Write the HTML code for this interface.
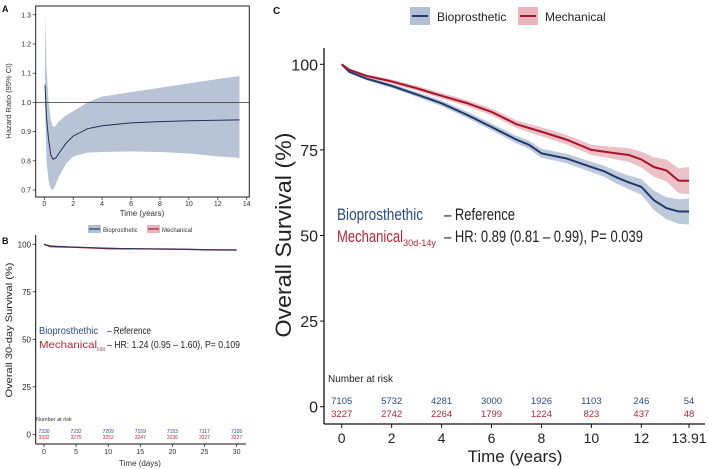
<!DOCTYPE html>
<html><head><meta charset="utf-8"><style>
html,body{margin:0;padding:0;background:#fff;}
svg{display:block;font-family:"Liberation Sans Narrow","Liberation Sans",sans-serif;}
</style></head><body>
<svg id="fig" width="709" height="469" viewBox="0 0 709 469" xmlns="http://www.w3.org/2000/svg"></svg>
<script>
// ---------- Panel A data ----------
const hrT     = [0.05,0.15,0.3,0.45,0.6,0.8,1,1.5,2,3,4,6,8,10,12,13.5];
const hrEst   = [1.06,0.95,0.87,0.82,0.805,0.81,0.825,0.86,0.885,0.91,0.92,0.93,0.934,0.937,0.939,0.94];
const hrUpper = [1.3,1.12,1.0,0.94,0.915,0.92,0.935,0.955,0.97,1.0,1.02,1.035,1.05,1.065,1.08,1.09];
const hrLower = [1.0,0.8,0.73,0.705,0.70,0.72,0.745,0.79,0.815,0.828,0.83,0.832,0.83,0.825,0.815,0.81];
const aXTicks = [0,2,4,6,8,10,12,14];
const aYTicks = [0.7,0.8,0.9,1.0,1.1,1.2,1.3];
// ---------- Panel B data ----------
const bDays   = [0,1,2,5,8,10,15,20,23,25,30];
const bBio    = [100,99.2,99.0,98.5,98.2,98.0,97.6,97.4,97.3,97.2,97.0];
const bMech   = [100,98.8,98.7,98.4,98.0,97.7,97.6,97.5,97.3,97.1,97.0];
const bXTicks = [0,5,10,15,20,25,30];
const bYTicks = [0,25,50,75,100];
const bRiskBio  = ["7330","7232","7209","7159","7153","7117","7105"];
const bRiskMech = ["3332","3275","3252","3247","3236","3227","3227"];
// ---------- Panel C data ----------
const cT     = [0,0.3,1,2,3,4,5,6,7,7.5,8,9,10,10.5,11,11.5,12,12.5,13,13.5,13.91];
const cBio   = [100,97.8,95.8,93.7,91.2,88.6,85.3,81.7,78,76.5,74,72.5,70,68.8,67,65.5,64.2,60.3,58,57,57];
const cMech  = [100,98.4,96.6,95,93,90.8,88.7,86.1,82.5,81.4,80.3,78,75,74.5,74,73.5,72.2,70,69,66,66];
const cBioCI = [0.2,0.4,0.5,0.6,0.7,0.8,0.9,1.0,1.1,1.2,1.3,1.4,1.5,1.6,1.8,2.0,2.3,2.8,3.2,3.6,3.8];
const cMechCI= [0.2,0.4,0.5,0.6,0.7,0.8,0.9,1.0,1.1,1.2,1.3,1.4,1.5,1.6,1.8,2.0,2.3,2.8,3.2,3.6,4.0];
const cXTicks = [0,2,4,6,8,10,12,13.91];
const cYTicks = [0,25,50,75,100];
const cRiskBio  = ["7105","5732","4281","3000","1926","1103","246","54"];
const cRiskMech = ["3227","2742","2264","1799","1224","823","437","48"];

const BLUE="#1f3a6e", RED="#a8152b", BLUEF="#b3bfd4", REDF="#e9b5bd", BLUET="#2c4a8a", REDT="#b02a3a";
const svg=document.getElementById('fig');
const NS="http://www.w3.org/2000/svg";
function el(tag,attrs,parent){const e=document.createElementNS(NS,tag);for(const k in attrs)e.setAttribute(k,attrs[k]);(parent||svg).appendChild(e);return e;}
function txt(s,attrs,parent){const e=el('text',attrs,parent);e.textContent=s;return e;}
function linePath(xs,ys,sx,sy){let d='M'+sx(xs[0])+','+sy(ys[0]);for(let i=1;i<xs.length;i++){d+=' L'+sx(xs[i])+','+sy(ys[i]);}return d;}

// ================= Panel A =================
const ax=t=>44.3+t*14.46, ay=v=>190-(v-0.7)/0.1*29.2;
let gA=el('g',{});


let pA='M'+ax(hrT[0])+','+ay(hrUpper[0]);
for(let i=1;i<hrT.length;i++)pA+=' L'+ax(hrT[i])+','+ay(hrUpper[i]);
for(let i=hrT.length-1;i>=0;i--)pA+=' L'+ax(hrT[i])+','+ay(hrLower[i]);
let band=el('path',{d:pA+'Z',fill:'#b9c3d6'},gA);


let ref=el('line',{x1:35.7,x2:249.3,y1:ay(1),y2:ay(1),stroke:'#333','stroke-width':0.8},gA);


let hl=el('path',{d:linePath(hrT,hrEst,ax,ay),fill:'none',stroke:'#1f2f5a','stroke-width':1},gA);


el('rect',{x:35.7,y:6,width:213.6,height:191,fill:'none',stroke:'#222','stroke-width':1},gA);
aXTicks.forEach(t=>{el('line',{x1:ax(t),x2:ax(t),y1:197,y2:200,stroke:'#222','stroke-width':0.7},gA);
 let e=txt(String(t),{x:ax(t),y:206,'font-size':7,'text-anchor':'middle',fill:'#333'},gA);
 });
aYTicks.forEach(v=>{el('line',{x1:32.7,x2:35.7,y1:ay(v),y2:ay(v),stroke:'#222','stroke-width':0.7},gA);
 let e=txt(v.toFixed(1),{x:31,y:ay(v)+2.5,'font-size':7,'text-anchor':'end',fill:'#333'},gA);
 });
let at=txt('Time (years)',{x:142,y:216,'font-size':8,'text-anchor':'middle',fill:'#333'},gA);

let ayt=txt('Hazard Ratio (95% CI)',{x:0,y:0,'font-size':7.5,'text-anchor':'middle',fill:'#333',transform:'translate(11,101) rotate(-90)'},gA);

let la=txt('A',{x:2,y:12,'font-size':9,'font-weight':'bold',fill:'#111','font-family':'Liberation Sans'},gA);


// ---- shared small legend ----
let gL=el('g',{});


el('rect',{x:88,y:225,width:13,height:8,fill:BLUEF},gL);
el('line',{x1:89,x2:100,y1:229,y2:229,stroke:BLUE,'stroke-width':1.2},gL);
txt('Bioprosthetic',{x:103,y:232,'font-size':6,fill:'#333','font-family':'Liberation Sans'},gL);
el('rect',{x:147,y:225,width:13,height:8,fill:REDF},gL);
el('line',{x1:148,x2:159,y1:229,y2:229,stroke:RED,'stroke-width':1.2},gL);
txt('Mechanical',{x:162,y:232,'font-size':6,fill:'#333','font-family':'Liberation Sans'},gL);

// ================= Panel B =================
const bx=d=>44+d*6.42, by=v=>434.3-v*1.9;
let gB=el('g',{});


let bm=el('path',{d:linePath(bDays,bMech,bx,by),fill:'none',stroke:RED,'stroke-width':1.4},gB);

let bb=el('path',{d:linePath(bDays,bBio,bx,by),fill:'none',stroke:BLUE,'stroke-width':1},gB);

el('line',{x1:35.7,x2:35.7,y1:235,y2:444,stroke:'#111','stroke-width':1},gB);
el('line',{x1:35.7,x2:246,y1:444,y2:444,stroke:'#111','stroke-width':1},gB);
bXTicks.forEach(d=>{el('line',{x1:bx(d),x2:bx(d),y1:444,y2:447,stroke:'#111','stroke-width':0.7},gB);
 let e=txt(String(d),{x:bx(d),y:454,'font-size':7,'text-anchor':'middle',fill:'#333','font-family':'Liberation Sans'},gB);
 });
bYTicks.forEach(v=>{el('line',{x1:32.7,x2:35.7,y1:by(v),y2:by(v),stroke:'#111','stroke-width':0.7},gB);
 let e=txt(String(v),{x:31,y:by(v)+3,'font-size':8,'text-anchor':'end',fill:'#222'},gB);
 });
let bt=txt('Time (days)',{x:140,y:466,'font-size':8,'text-anchor':'middle',fill:'#333','font-family':'Liberation Sans'},gB);

let byt=txt('Overall 30-day Survival (%)',{x:0,y:0,'font-size':9.5,'text-anchor':'middle',fill:'#222',transform:'translate(12,330) rotate(-90)',textLength:135,lengthAdjust:'spacingAndGlyphs'},gB);

let lb=txt('B',{x:2,y:244,'font-size':9,'font-weight':'bold',fill:'#111','font-family':'Liberation Sans'},gB);

txt('Bioprosthethic',{x:39,y:334,'font-size':10,fill:BLUET,textLength:59,lengthAdjust:'spacingAndGlyphs'},gB);
txt('– Reference',{x:107,y:334,'font-size':10,fill:'#222',textLength:44,lengthAdjust:'spacingAndGlyphs'},gB);
txt('Mechanical',{x:39,y:348,'font-size':10,fill:REDT,textLength:58,lengthAdjust:'spacingAndGlyphs'},gB);
txt('0-30d',{x:97,y:351,'font-size':5.5,fill:REDT,textLength:8,lengthAdjust:'spacingAndGlyphs'},gB);
txt('– HR: 1.24 (0.95 – 1.60), P= 0.109',{x:107,y:348,'font-size':10,fill:'#222',textLength:133,lengthAdjust:'spacingAndGlyphs'},gB);
txt('Number at risk',{x:36,y:421,'font-size':5.5,fill:'#333','font-family':'Liberation Sans'},gB);
bXTicks.forEach((d,i)=>{
 let e1=txt(bRiskBio[i],{x:bx(d),y:433,'font-size':5,'text-anchor':'middle',fill:BLUET,'font-family':'Liberation Sans'},gB);
 
 let e2=txt(bRiskMech[i],{x:bx(d),y:439,'font-size':5,'text-anchor':'middle',fill:REDT,'font-family':'Liberation Sans'},gB);
 });

// ================= Panel C =================
const cx=t=>341.7+t*24.97, cy=v=>406.7-v*3.424;
let gC=el('g',{});


function bandLine(xs,ys,ci,fill,name){
 let d='M'+cx(xs[0])+','+cy(ys[0]+ci[0]);
 for(let i=1;i<xs.length;i++)d+=' L'+cx(xs[i])+','+cy(ys[i]+ci[i]);
 for(let i=xs.length-1;i>=0;i--)d+=' L'+cx(xs[i])+','+cy(ys[i]-ci[i]);
 let p=el('path',{d:d+'Z',fill:fill,opacity:0.85},gC);
 
}
bandLine(cT,cBio,cBioCI,BLUEF,'c-bio-ci-band');
bandLine(cT,cMech,cMechCI,REDF,'c-mech-ci-band');
let cb=el('path',{d:linePath(cT,cBio,cx,cy),fill:'none',stroke:BLUE,'stroke-width':2},gC);

let cm=el('path',{d:linePath(cT,cMech,cx,cy),fill:'none',stroke:RED,'stroke-width':2},gC);

el('line',{x1:324,x2:324,y1:48,y2:424,stroke:'#111','stroke-width':1.3},gC);
el('line',{x1:324,x2:705,y1:424,y2:424,stroke:'#111','stroke-width':1.3},gC);
cXTicks.forEach(t=>{el('line',{x1:cx(t),x2:cx(t),y1:424,y2:428,stroke:'#111','stroke-width':1},gC);
 let e=txt(String(t),{x:cx(t),y:443,'font-size':14,'text-anchor':'middle',fill:'#222','font-family':'Liberation Sans'},gC);
 });
cYTicks.forEach(v=>{el('line',{x1:320,x2:324,y1:cy(v),y2:cy(v),stroke:'#111','stroke-width':1},gC);
 let e=txt(String(v),{x:318,y:cy(v)+6,'font-size':16,'text-anchor':'end',fill:'#222'},gC);
 });
let ct=txt('Time (years)',{x:515,y:462,'font-size':17,'text-anchor':'middle',fill:'#222','font-family':'Liberation Sans'},gC);

let cyt=txt('Overall Survival (%)',{x:0,y:0,'font-size':22,'text-anchor':'middle',fill:'#222',transform:'translate(291,235) rotate(-90)',textLength:205,lengthAdjust:'spacingAndGlyphs'},gC);

let lc=txt('C',{x:273,y:14,'font-size':10,'font-weight':'bold',fill:'#111','font-family':'Liberation Sans'},gC);

let gCL=el('g',{},gC);


el('rect',{x:410,y:7,width:20,height:18,fill:BLUEF},gCL);
el('line',{x1:412,x2:428,y1:16,y2:16,stroke:BLUE,'stroke-width':2},gCL);
txt('Bioprosthetic',{x:437,y:21,'font-size':12,fill:'#222','font-family':'Liberation Sans'},gCL);
el('rect',{x:518,y:7,width:20,height:18,fill:REDF},gCL);
el('line',{x1:520,x2:536,y1:16,y2:16,stroke:RED,'stroke-width':2},gCL);
txt('Mechanical',{x:545,y:21,'font-size':12,fill:'#222','font-family':'Liberation Sans'},gCL);
txt('Bioprosthethic',{x:337,y:220,'font-size':17,fill:BLUET,textLength:86,lengthAdjust:'spacingAndGlyphs'},gC);
txt('– Reference',{x:444,y:220,'font-size':17,fill:'#222',textLength:71,lengthAdjust:'spacingAndGlyphs'},gC);
txt('Mechanical',{x:337,y:242,'font-size':17,fill:REDT,textLength:66,lengthAdjust:'spacingAndGlyphs'},gC);
txt('30d-14y',{x:403,y:246,'font-size':9,fill:REDT,textLength:33,lengthAdjust:'spacingAndGlyphs'},gC);
txt('– HR: 0.89 (0.81 – 0.99), P= 0.039',{x:444,y:242,'font-size':17,fill:'#222',textLength:199,lengthAdjust:'spacingAndGlyphs'},gC);
txt('Number at risk',{x:328,y:382,'font-size':10,fill:'#222','font-family':'Liberation Sans'},gC);
cXTicks.forEach((t,i)=>{
 let e1=txt(cRiskBio[i],{x:cx(t),y:404,'font-size':9.5,'text-anchor':'middle',fill:BLUET,'font-family':'Liberation Sans'},gC);
 
 let e2=txt(cRiskMech[i],{x:cx(t),y:417,'font-size':9.5,'text-anchor':'middle',fill:REDT,'font-family':'Liberation Sans'},gC);
 });
</script>
</body></html>
